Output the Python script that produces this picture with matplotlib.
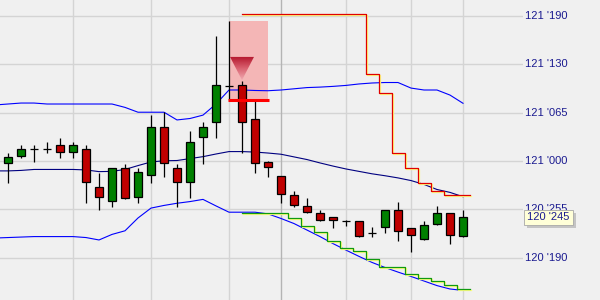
import numpy as np
import matplotlib
matplotlib.use("Agg")
import matplotlib.pyplot as plt
from matplotlib.patches import Rectangle, Polygon
from matplotlib.colors import LinearSegmentedColormap
import matplotlib.patheffects as pe
import matplotlib.transforms as mtrans

# --- OHLC bars (T-Note future, decimal prices) ---
opens = [120.992, 121.021, 121.050, 121.050, 121.066, 121.037, 121.050, 120.892, 120.834, 120.971,
         120.851, 120.942, 121.141, 120.971, 120.913, 121.099, 121.161, 121.311, 121.315, 121.174,
         120.996, 120.938, 120.859, 120.814, 120.785, 120.768, 120.752, 120.752, 120.702, 120.727,
         120.797, 120.723, 120.677, 120.739, 120.785, 120.689]
highs = [121.033, 121.066, 121.066, 121.079, 121.095, 121.079, 121.066, 120.950, 120.971, 120.988,
         120.971, 121.190, 121.203, 120.988, 121.124, 121.161, 121.518, 121.580, 121.331, 121.253,
         121.000, 120.938, 120.876, 120.847, 120.797, 120.768, 120.756, 120.752, 120.727, 120.797,
         120.830, 120.723, 120.752, 120.814, 120.785, 120.797]
lows = [120.909, 121.012, 120.996, 121.033, 121.012, 121.012, 120.826, 120.797, 120.810, 120.843,
        120.826, 120.909, 120.934, 120.810, 120.847, 120.988, 121.095, 121.253, 121.033, 120.950,
        120.934, 120.826, 120.810, 120.785, 120.752, 120.723, 120.731, 120.685, 120.685, 120.702,
        120.669, 120.623, 120.673, 120.735, 120.656, 120.685]
closes = [121.017, 121.050, 121.050, 121.050, 121.037, 121.066, 120.913, 120.851, 120.971, 120.847,
          120.954, 121.141, 120.992, 120.913, 121.079, 121.141, 121.315, 121.311, 121.161, 120.992,
          120.975, 120.863, 120.818, 120.789, 120.756, 120.756, 120.752, 120.689, 120.702, 120.797,
          120.710, 120.694, 120.735, 120.785, 120.694, 120.768]

# --- Bollinger bands, starting one bar before the first candle ---
band_start = -1
upper_band = [121.232, 121.236, 121.240, 121.240, 121.236, 121.236, 121.236, 121.236, 121.236, 121.236,
              121.222, 121.202, 121.202, 121.202, 121.170, 121.176, 121.190, 121.236, 121.294, 121.294,
              121.292, 121.291, 121.294, 121.299, 121.304, 121.306, 121.309, 121.313, 121.319, 121.323,
              121.325, 121.325, 121.302, 121.294, 121.294, 121.273, 121.239]
middle_band = [120.959, 120.959, 120.961, 120.965, 120.965, 120.965, 120.965, 120.963, 120.956, 120.957,
               120.965, 120.981, 120.996, 121.001, 121.002, 121.010, 121.018, 121.029, 121.039, 121.039,
               121.037, 121.033, 121.028, 121.017, 121.006, 120.992, 120.979, 120.967, 120.957, 120.947,
               120.939, 120.930, 120.919, 120.903, 120.882, 120.870, 120.852]
lower_band = [120.681, 120.683, 120.685, 120.687, 120.687, 120.687, 120.687, 120.683, 120.673, 120.696,
              120.711, 120.764, 120.805, 120.816, 120.825, 120.832, 120.841, 120.814, 120.788, 120.788,
              120.788, 120.781, 120.762, 120.741, 120.714, 120.687, 120.658, 120.631, 120.605, 120.580,
              120.559, 120.540, 120.522, 120.503, 120.484, 120.470, 120.464]

# --- Trailing stops from the signal bar onwards ---
stop_start = 18
short_stop = [121.609, 121.609, 121.609, 121.609, 121.609, 121.609, 121.609, 121.609, 121.609, 121.609,
              121.360, 121.282, 121.032, 120.970, 120.908, 120.876, 120.859, 120.859]
long_stop = [120.783, 120.783, 120.783, 120.783, 120.765, 120.731, 120.705, 120.670, 120.641, 120.627,
             120.593, 120.562, 120.562, 120.531, 120.514, 120.503, 120.487, 120.470]

# --- Short signal zone ---
signal_bar = 17
signal_end = 20
signal_high = 121.580
entry_price = 121.253
arrow_bar = 18
arrow_top = 121.431
arrow_tip = 121.335

price_ticks = [121.6, 121.4, 121.2, 121.0, 120.8, 120.6]
grid_bars = [5, 11, 17, 21, 26, 31, 35]
session_bar = 21


def fmt32(p):
    """Bond quote: handle plus 32nds rounded to a half."""
    handle = int(np.floor(p + 1e-9))
    n = round((p - handle) * 64) / 2.0
    if n >= 32:
        handle += 1
        n -= 32
    return f"{handle} '{int(round(n * 10)):03d}"


BG = "#f0f0f0"
W_PX, H_PX = 600, 300
AX_W_PX = 523

fig = plt.figure(figsize=(6, 3), dpi=100, facecolor=BG)
ax = fig.add_axes([0, 0, AX_W_PX / W_PX, 1])
ax.set_facecolor(BG)
ax.set_axis_off()

x0_px, step_px = 8, 13
ax.set_xlim(-x0_px / step_px, (AX_W_PX - x0_px) / step_px)
ymin, ymax = 120.4244, 121.6667
ax.set_ylim(ymin, ymax)
data_per_px = (ymax - ymin) / H_PX

# grid
for p in price_ticks:
    ax.axhline(p, color="#d4d4d4", lw=1.0, zorder=1)
for b in grid_bars:
    ax.axvline(b, color="#b4b4b4" if b == session_bar else "#d4d4d4", lw=1.0, zorder=1)

# signal zone
ax.add_patch(Rectangle((signal_bar, entry_price), signal_end - signal_bar,
                       signal_high - entry_price, facecolor="#f4b6b6",
                       edgecolor="none", zorder=1.5))

# bands
xb = np.arange(band_start, band_start + len(upper_band))
ax.plot(xb, upper_band, color="#0000ff", lw=0.8, zorder=2)
ax.plot(xb, lower_band, color="#0000ff", lw=0.8, zorder=2)
ax.plot(xb, middle_band, color="#000080", lw=0.8, zorder=2)

# candles
n = len(opens)
xs = np.arange(n)
bw = 0.55
ax.vlines(xs, lows, highs, color="black", lw=0.9, zorder=3)
for i in range(n):
    o, c = opens[i], closes[i]
    if abs(c - o) < 1e-9:
        ax.hlines(o, i - bw / 2 - 0.03, i + bw / 2 + 0.03, color="black", lw=0.9, zorder=4)
        continue
    col = "#008000" if c > o else "#c00000"
    ax.add_patch(Rectangle((i - bw / 2, min(o, c)), bw, abs(c - o),
                           facecolor=col, edgecolor="black", lw=0.9, zorder=4))


def stair(values, start):
    edges = [start] + [start + k + 0.5 for k in range(len(values))]
    sx = np.repeat(edges, 2)[1:-1]
    sy = np.repeat(values, 2)
    return sx, sy


shadow = [pe.SimpleLineShadow(offset=(0.72, -0.72), shadow_color="#ffff80", alpha=1.0), pe.Normal()]
sx, sy = stair(short_stop, stop_start)
ax.plot(sx, sy, color="#e00000", lw=0.9, zorder=5, path_effects=shadow)
sx, sy = stair(long_stop, stop_start)
ax.plot(sx, sy, color="#109a10", lw=0.9, zorder=5, path_effects=shadow)

# entry line
ax.hlines(entry_price, signal_bar - 0.08, signal_end + 0.08, color="#ff0000", lw=2.2, zorder=6)

# short arrow with gradient
half = 0.92
tri = Polygon([(arrow_bar - half, arrow_top), (arrow_bar + half, arrow_top), (arrow_bar, arrow_tip)],
              closed=True, transform=ax.transData, facecolor="none", edgecolor="none")
ax.add_patch(tri)
cmap = LinearSegmentedColormap.from_list("arrow", ["#b3152c", "#d9606e", "#f0a8b0"])
img = ax.imshow(np.linspace(0, 1, 64).reshape(-1, 1), cmap=cmap, aspect="auto",
                extent=[arrow_bar - half, arrow_bar + half, arrow_tip, arrow_top],
                origin="upper", zorder=7, interpolation="bilinear")
img.set_clip_path(tri)
ax.set_xlim(-x0_px / step_px, (AX_W_PX - x0_px) / step_px)
ax.set_ylim(ymin, ymax)

# price scale labels
lab_tr = mtrans.blended_transform_factory(fig.transFigure, ax.transData)
label_kw = dict(ha="left", va="center", fontsize=8, color="#1a1a90",
                family=["Liberation Sans", "DejaVu Sans"], clip_on=False, transform=lab_tr)
for p in price_ticks:
    ax.text(525 / W_PX, p, fmt32(p), zorder=8, **label_kw)

# last price box
last = closes[-1]
bx, bwid, bh = 523.5 / W_PX, 49.5 / W_PX, 15 * data_per_px
sh = 3
ax.add_patch(Rectangle((bx + sh / W_PX, last - bh / 2 - sh * data_per_px), bwid, bh,
                       transform=lab_tr, facecolor="#c4c4c4", edgecolor="none",
                       clip_on=False, zorder=9))
ax.add_patch(Rectangle((bx, last - bh / 2), bwid, bh, transform=lab_tr,
                       facecolor="#ffffd8", edgecolor="#a8a8a8", lw=0.6,
                       clip_on=False, zorder=10))
ax.text(527 / W_PX, last, fmt32(last), zorder=11, **label_kw)

fig.savefig("out.png", dpi=100, facecolor=BG)
